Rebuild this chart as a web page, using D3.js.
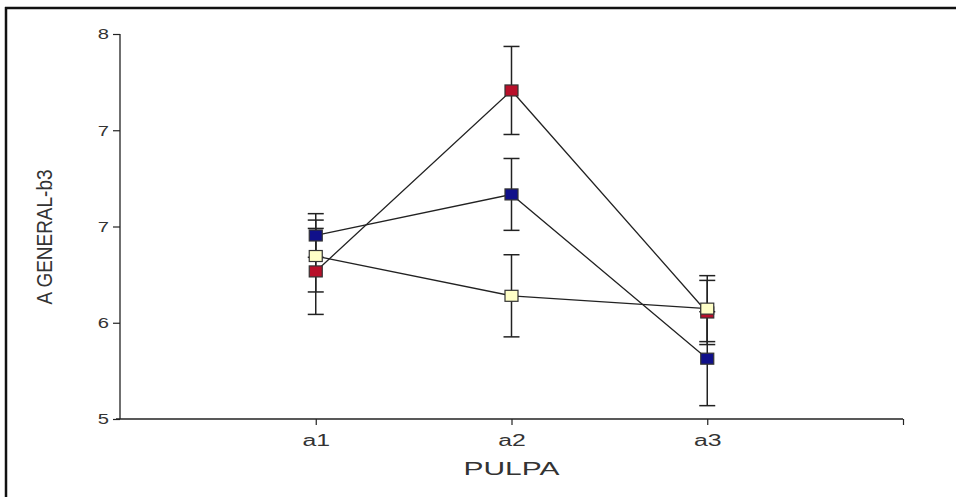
<!DOCTYPE html>
<html><head><meta charset="utf-8">
<script src="https://cdn.jsdelivr.net/npm/d3@7"></script>
<style>body{margin:0;background:#fff}svg{display:block}</style>
</head><body>
<svg id="c" width="956" height="497"></svg>
<script>
const categories = ["a1","a2","a3"];
const seriesNames = ["red","blue","yellow"];
const redValues = [6.15, 7.56, 5.83];
const redErrors = [0.335, 0.343, 0.25];
const blueValues = [6.43, 6.75, 5.47];
const blueErrors = [0.17, 0.28, 0.366];
const yellowValues = [6.27, 5.96, 5.86];
const yellowErrors = [0.28, 0.32, 0.257];
const yTickValues = [5, 5.75, 6.5, 7.25, 8];
const yTickLabels = ["5","6","7","7","8"];

const series = [
  {name:"red", values:redValues, errors:redErrors, fill:"#b8102a"},
  {name:"blue", values:blueValues, errors:blueErrors, fill:"#10108a"},
  {name:"yellow", values:yellowValues, errors:yellowErrors, fill:"#ffffc8"}
];
const FONT = "Liberation Sans, Arial, sans-serif";
const svg = d3.select("#c");
// frame
svg.append("line").attr("x1",6).attr("x2",6).attr("y1",7).attr("y2",497).attr("stroke","#111").attr("stroke-width",2.5);
svg.append("line").attr("x1",5).attr("x2",956).attr("y1",8).attr("y2",8).attr("stroke","#111").attr("stroke-width",2.5);

const x = d3.scaleLinear().domain([0,4]).range([120,903]);
const y = d3.scaleLinear().domain([5,8]).range([419,34]);

function stretch(sel, factor){
  sel.each(function(){
    const w = this.getComputedTextLength();
    d3.select(this).attr("textLength", w*factor).attr("lengthAdjust","spacingAndGlyphs");
  });
}

// y axis
const ya = svg.append("g").attr("transform","translate(120,0)")
  .call(d3.axisLeft(y).tickValues(yTickValues).tickFormat((d,i)=>yTickLabels[i]).tickSize(7).tickPadding(4));
ya.select(".domain").attr("stroke","#222").attr("stroke-width",1.3).attr("d","M0,"+y(8)+"V"+y(5));
ya.selectAll(".tick line").attr("stroke","#222").attr("stroke-width",1.2);
ya.selectAll("text").attr("font-family",FONT).attr("font-size",15.5).attr("fill","#333");
stretch(ya.selectAll("text"),1.3);

// x axis
const xa = svg.append("g").attr("transform","translate(0,419)")
  .call(d3.axisBottom(x).tickValues([1,2,3,4]).tickFormat(d=>categories[d-1]||"").tickSize(6).tickPadding(10));
xa.select(".domain").attr("stroke","#222").attr("stroke-width",1.3).attr("d","M"+(x(0)-4)+",0H"+x(4));
xa.selectAll(".tick line").attr("stroke","#222").attr("stroke-width",1.2);
xa.selectAll("text").attr("font-family",FONT).attr("font-size",16).attr("fill","#333");
stretch(xa.selectAll("text"),1.55);

// axis titles
const xt = svg.append("text").attr("x",x(2)).attr("y",475).attr("text-anchor","middle")
  .attr("font-family",FONT).attr("font-size",18).attr("fill","#333").text("PULPA");
xt.attr("textLength",96).attr("lengthAdjust","spacingAndGlyphs");
svg.append("text").attr("transform","translate(52,237) rotate(-90)").attr("text-anchor","middle")
  .attr("font-family",FONT).attr("font-size",22).attr("fill","#333").text("A GENERAL-b3")
  .attr("textLength",135).attr("lengthAdjust","spacingAndGlyphs");

// lines
const line = d3.line().x((d,i)=>x(i+1)).y(d=>y(d));
series.forEach(s=>{
  svg.append("path").attr("d",line(s.values)).attr("fill","none").attr("stroke","#222").attr("stroke-width",1.3);
});
// error bars
series.forEach(s=>{
  s.values.forEach((v,i)=>{
    const cx = x(i+1), e = s.errors[i];
    const g = svg.append("g").attr("stroke","#222").attr("stroke-width",1.5);
    g.append("line").attr("x1",cx).attr("x2",cx).attr("y1",y(v+e)).attr("y2",y(v-e));
    g.append("line").attr("x1",cx-8).attr("x2",cx+8).attr("y1",y(v+e)).attr("y2",y(v+e));
    g.append("line").attr("x1",cx-8).attr("x2",cx+8).attr("y1",y(v-e)).attr("y2",y(v-e));
  });
});
// markers
series.forEach(s=>{
  s.values.forEach((v,i)=>{
    svg.append("rect").attr("x",x(i+1)-6.5).attr("y",y(v)-5.5).attr("width",13).attr("height",11)
      .attr("fill",s.fill).attr("stroke","#333").attr("stroke-width",1.2);
  });
});
</script>
</body></html>
